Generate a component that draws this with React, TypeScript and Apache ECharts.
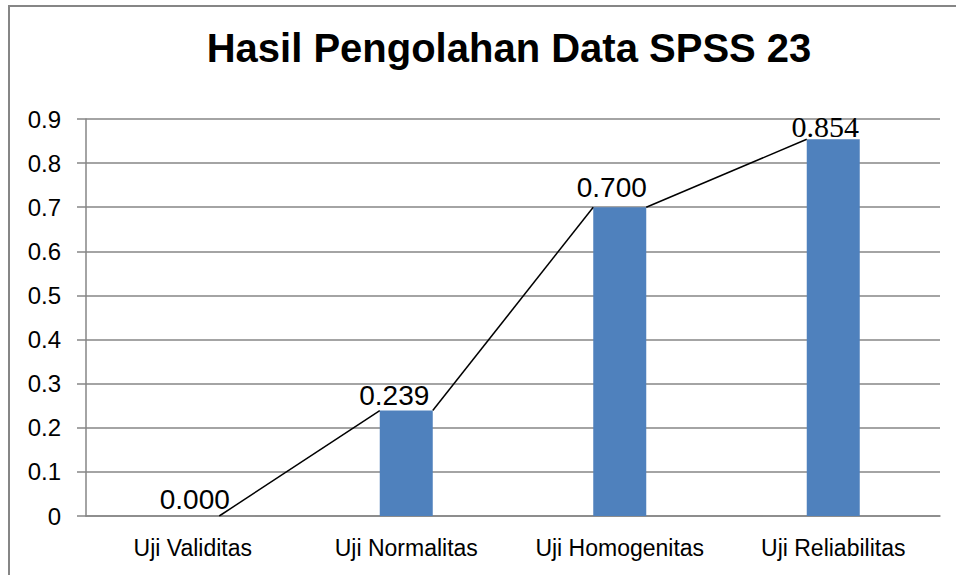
import React, { useEffect, useRef } from "react";
import * as echarts from "echarts";

const titleText = "Hasil Pengolahan Data SPSS 23";
const categories = ["Uji Validitas", "Uji Normalitas", "Uji Homogenitas", "Uji Reliabilitas"];
const values = [0.0, 0.239, 0.7, 0.854];
const valueLabels = ["0.000", "0.239", "0.700", "0.854"];
const labelOffsets = [
  [2, -3],
  [-12, -1],
  [-8, -6],
  [-8, 2],
];
const labelFonts = ["Liberation Sans", "Liberation Sans", "Liberation Sans", "Liberation Serif"];
const labelSizes = [28, 28, 28, 30];

export default function App() {
  const ref = useRef<HTMLDivElement>(null);
  useEffect(() => {
    if (!ref.current) return;
    const chart = echarts.init(ref.current, null, { renderer: "svg" });
    const barWidthPx = 53;
    const catWidthPx = (956 - 86 - 16) / categories.length;
    const hw = barWidthPx / 2 / catWidthPx;
    const segments: any[] = [];
    for (let i = 0; i < values.length - 1; i++) {
      segments.push({
        type: "line",
        xAxisIndex: 1,
        yAxisIndex: 0,
        data: [
          [i + 0.5 + hw, values[i]],
          [i + 1.5 - hw, values[i + 1]],
        ],
        symbol: "none",
        lineStyle: { color: "#000", width: 1.5 },
        z: 3,
        silent: true,
      });
    }
    chart.setOption({
      animation: false,
      backgroundColor: "#fff",
      title: {
        text: titleText,
        left: 504,
        top: 23,
        textAlign: "center",
        textStyle: {
          fontFamily: "Liberation Sans",
          fontWeight: "bold",
          fontSize: 40,
          color: "#000",
        },
      },
      graphic: [
        {
          type: "rect",
          shape: { x: 9, y: 6, width: 2000, height: 2000 },
          style: { fill: "none", stroke: "#868686", lineWidth: 2 },
          silent: true,
        },
      ],
      grid: { left: 86, right: 16, top: 119, bottom: 59 },
      xAxis: [
        {
          type: "category",
          data: categories,
          axisTick: { show: false },
          axisLine: { lineStyle: { color: "#868686", width: 1.5 } },
          axisLabel: {
            interval: 0,
            hideOverlap: false,
            fontFamily: "Liberation Sans",
            fontSize: 23,
            color: "#000",
            margin: 20,
          },
        },
        {
          type: "value",
          min: 0,
          max: categories.length,
          show: false,
        },
      ],
      yAxis: {
        type: "value",
        min: 0,
        max: 0.9,
        interval: 0.1,
        axisLine: { show: true, lineStyle: { color: "#868686", width: 1.5 } },
        axisTick: { show: true, length: 9, lineStyle: { color: "#868686", width: 1.5 } },
        splitLine: { lineStyle: { color: "#868686", width: 1.5 } },
        axisLabel: {
          fontFamily: "Liberation Sans",
          fontSize: 24,
          color: "#000",
          margin: 25,
          formatter: (v: number) => (v === 0 ? "0" : v.toFixed(1)),
        },
      },
      series: [
        {
          type: "bar",
          xAxisIndex: 0,
          barWidth: barWidthPx,
          itemStyle: { color: "#4F81BD" },
          data: values.map((v, i) => ({
            value: v,
            label: {
              show: true,
              position: "top",
              distance: 0,
              offset: labelOffsets[i],
              formatter: valueLabels[i],
              fontFamily: labelFonts[i],
              fontSize: labelSizes[i],
              color: "#000",
            },
          })),
          z: 2,
        },
        ...segments,
      ],
    });
    return () => chart.dispose();
  }, []);
  return (
    <div
      ref={ref}
      style={{ position: "absolute", left: 0, top: 0, width: 956, height: 575 }}
    />
  );
}
